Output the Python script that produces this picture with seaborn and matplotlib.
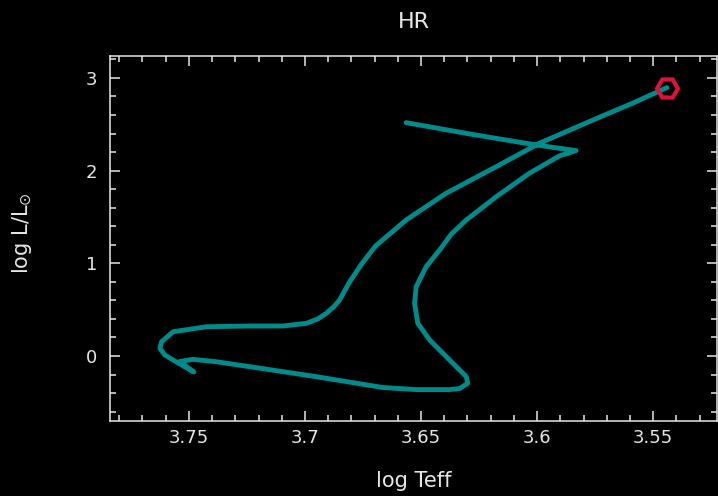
import matplotlib
matplotlib.use("Agg")
import matplotlib.pyplot as plt
from matplotlib.ticker import MultipleLocator
import pandas as pd
import seaborn as sns

# evolutionary track: log Teff and log L/Lsun, in drawing order
log_teff = [3.6564, 3.6291, 3.6004, 3.5832, 3.5904, 3.6033, 3.6176, 3.6305,
            3.6369, 3.6420, 3.6478, 3.6521, 3.6528, 3.6514, 3.6463, 3.6377,
            3.6305, 3.6299, 3.6334, 3.6377, 3.6521, 3.6664, 3.6951, 3.7238,
            3.7381, 3.7482, 3.7539, 3.7479, 3.7568, 3.7604, 3.7625, 3.7618,
            3.7568, 3.7424, 3.7238, 3.7095, 3.6994, 3.6945, 3.6908, 3.6877,
            3.6851, 3.6808, 3.6756, 3.6696, 3.6564, 3.6392, 3.6176, 3.5990,
            3.5732, 3.5589, 3.5441]
log_L = [2.518, 2.396, 2.277, 2.216, 2.159, 1.972, 1.719, 1.468,
         1.317, 1.144, 0.964, 0.748, 0.569, 0.353, 0.173, -0.043,
         -0.223, -0.295, -0.351, -0.362, -0.362, -0.340, -0.223, -0.115,
         -0.062, -0.036, -0.059, -0.173, -0.043, 0.011, 0.083, 0.154,
         0.262, 0.316, 0.324, 0.324, 0.353, 0.399, 0.461, 0.529,
         0.604, 0.799, 0.993, 1.187, 1.468, 1.756, 2.043, 2.296,
         2.576, 2.727, 2.896]

# current model (red marker)
star_teff = [3.5441]
star_L = [2.896]

x_ticks = [3.75, 3.7, 3.65, 3.6, 3.55]
x_tick_labels = ["3.75", "3.7", "3.65", "3.6", "3.55"]
y_ticks = [0, 1, 2, 3]
y_tick_labels = ["0", "1", "2", "3"]

track = pd.DataFrame({"log Teff": log_teff, "log L": log_L})

fg = "#e6e6e6"
sns.set_theme(style="ticks", rc={
    "figure.facecolor": "black", "axes.facecolor": "black",
    "savefig.facecolor": "black", "axes.edgecolor": fg,
    "text.color": fg, "axes.labelcolor": fg,
    "xtick.color": fg, "ytick.color": fg, "axes.linewidth": 1.1,
})
plt.rcParams["font.family"] = ["DejaVu Sans"]

fig = plt.figure(figsize=(7.18, 4.96), dpi=100)
ax = fig.add_axes([0.1532, 0.1518, 0.8454, 0.7359])

sns.lineplot(data=track, x="log Teff", y="log L", sort=False, estimator=None,
             color="#008b8b", linewidth=3.5, solid_joinstyle="round", ax=ax)
ax.plot(star_teff, star_L, marker="H", ms=15, mfc="none", mec="#dc143c",
        mew=3, ls="none")

ax.set_xlim(3.784, 3.5225)
ax.set_ylim(-0.698, 3.24)
ax.set_xticks(x_ticks, labels=x_tick_labels)
ax.set_yticks(y_ticks, labels=y_tick_labels)
ax.xaxis.set_minor_locator(MultipleLocator(0.01))
ax.yaxis.set_minor_locator(MultipleLocator(0.2))
ax.tick_params(which="both", direction="in", top=True, right=True,
               width=1.1, labelsize=13)
ax.tick_params(which="major", length=7.2)
ax.tick_params(which="minor", length=4.3)
ax.tick_params(axis="x", pad=6)
ax.tick_params(axis="y", pad=9)

ax.set_title("HR", fontsize=16, pad=20)
ax.set_xlabel("log Teff", fontsize=15)
ax.set_ylabel(r"log L/L$_{\odot}$", fontsize=15)
ax.xaxis.set_label_coords(0.5, -0.138)
ax.yaxis.set_label_coords(-0.125, 0.515)

fig.savefig("out.png", dpi=100)
